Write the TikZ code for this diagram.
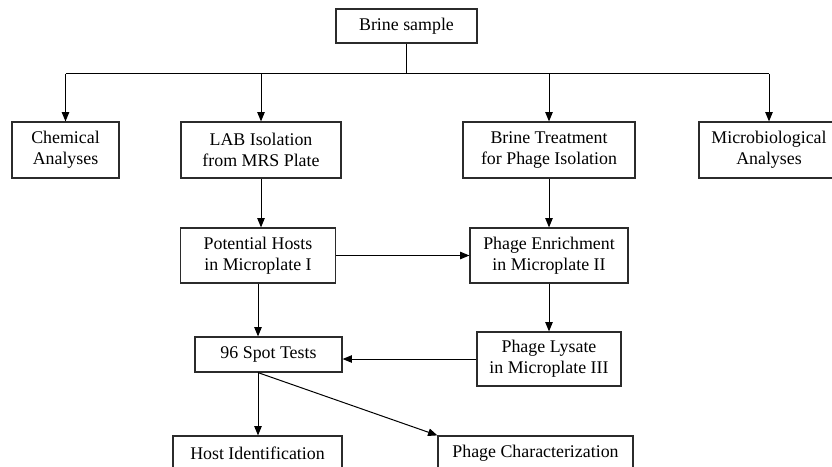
\documentclass[tikz,border=0pt]{standalone}
\usepackage{fontspec}
\setmainfont{Liberation Serif}
\usepackage{tikz}
\usepackage{xcolor}
\usetikzlibrary{arrows.meta,positioning,calc}
\definecolor{edge}{HTML}{2B2B2B}
\newdimen\pxu
\pxu=0.75pt
\tikzset{
  block/.style={draw=edge, fill=white, line width=0.9pt, rectangle,
                align=center, inner sep=2pt,
                font=\rmfamily\fontsize{13.4}{15.8}\selectfont},
  arrow/.style={-{Triangle[length=7pt,width=5.6pt]}, line width=0.75pt, draw=black}
}
\begin{document}
\begin{tikzpicture}[x=0.75pt,y=-0.75pt]
        \useasboundingbox (0,0) rectangle (832,467);

        \node[block,minimum width=141\pxu,minimum height=34\pxu] (sample) at (406.5,26) {Brine sample};
        \node[block,minimum width=107\pxu,minimum height=56\pxu] (chem) at (65.5,150) {Chemical\\Analyses};
        \node[block,minimum width=160\pxu,minimum height=56\pxu] (lab) at (261,150) {LAB Isolation\\from MRS Plate};
        \node[block,minimum width=172\pxu,minimum height=56\pxu] (treat) at (549,150) {Brine Treatment\\for Phage Isolation};
        \node[block,minimum width=140\pxu,minimum height=56\pxu] (micro) at (769,150) {Microbiological\\Analyses};
        \node[block,minimum width=155\pxu,minimum height=55\pxu] (hosts) at (258,255.5) {Potential Hosts\\in Microplate I};
        \node[block,minimum width=158\pxu,minimum height=55\pxu] (enrich) at (549,255.5) {Phage Enrichment\\in Microplate II};
        \node[block,minimum width=144\pxu,minimum height=54\pxu] (lysate) at (549,359) {Phage Lysate\\in Microplate III};
        \node[block,minimum width=147\pxu,minimum height=35\pxu] (spot) at (268.5,354.5) {96 Spot Tests};
        \node[block,minimum width=169\pxu,minimum height=35\pxu] (hostid) at (257.5,453.5) {Host Identification};
        \node[block,minimum width=195\pxu,minimum height=35\pxu] (phagechar) at (535.5,453.5) {Phage Characterization};

        \coordinate (bus) at (406.5,74);
        \draw[line width=0.75pt] (sample.south) -- (bus);
        \draw[line width=0.75pt] (chem.north |- bus) -- (micro.north |- bus);
        \foreach \n in {chem,lab,treat,micro}
          {\draw[arrow] (\n.north |- bus) -- (\n.north);}

        \draw[arrow] (lab.south) -- (lab.south |- hosts.north);
        \draw[arrow] (treat.south) -- (treat.south |- enrich.north);
        \draw[arrow] (hosts.east) -- (enrich.west);
        \draw[arrow] (enrich.south) -- (lysate.north);
        \draw[arrow] (hosts.south) -- (hosts.south |- spot.north);
        \draw[arrow] (lysate.west) -- (spot.east |- lysate.west);
        \draw[arrow] (hosts.south |- spot.south) -- (hosts.south |- hostid.north);
        \draw[arrow] (hosts.south |- spot.south) -- (phagechar.north west);
      \end{tikzpicture}
\end{document}
